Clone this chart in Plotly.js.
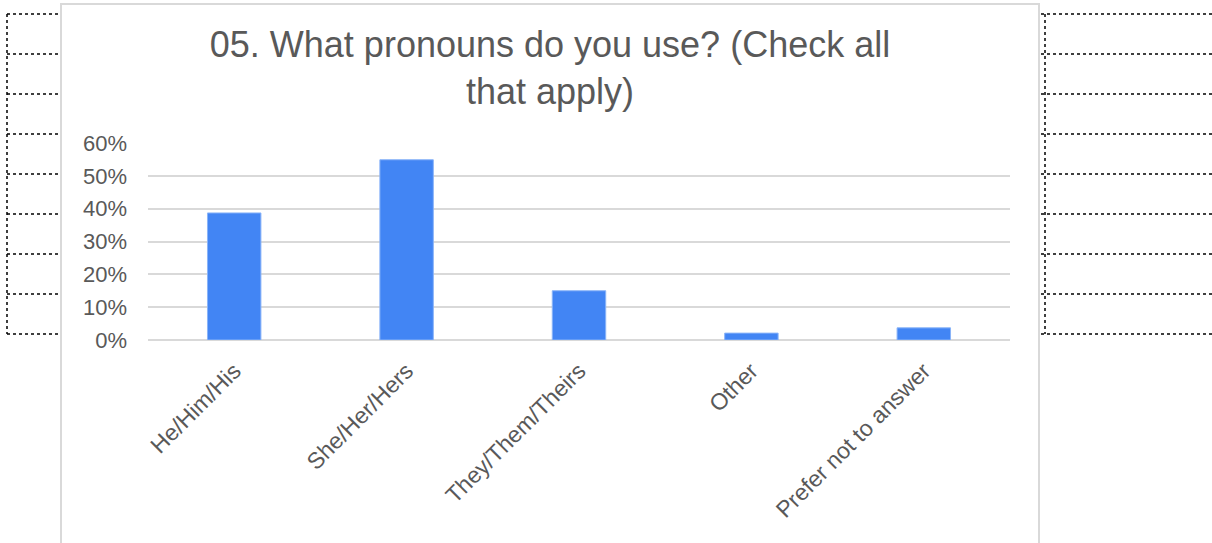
<!DOCTYPE html>
<html>
<head>
<meta charset="utf-8">
<script src="https://cdn.plot.ly/plotly-3.0.1.min.js"></script>
<style>
html,body{margin:0;padding:0;background:#fff;}
#chart{width:1212px;height:543px;}
</style>
</head>
<body>
<div id="chart"></div>
<script>
const categories = ["He/Him/His", "She/Her/Hers", "They/Them/Theirs", "Other", "Prefer not to answer"];
const shares = [0.387, 0.549, 0.150, 0.021, 0.037];
const yTickValues = [0, 0.1, 0.2, 0.3, 0.4, 0.5, 0.6];
const yTickLabels = ["0%", "10%", "20%", "30%", "40%", "50%", "60%"];
const titleText = "05. What pronouns do you use? (Check all<br>that apply)";

const W = 1212, H = 543;
const M = {l: 148, r: 202, t: 143, b: 203};
const pw = W - M.l - M.r, ph = H - M.t - M.b;
const px = x => (x - M.l) / pw;
const py = y => (H - M.b - y) / ph;

const shapes = [];
// chart frame
shapes.push({type: 'rect', xref: 'paper', yref: 'paper', x0: px(61), x1: px(1039), y0: py(4), y1: py(560),
  line: {color: '#d9d9d9', width: 2}, fillcolor: 'rgba(0,0,0,0)', layer: 'below'});
// spreadsheet cell dotted borders
const rows = [14, 54, 94, 134, 174, 214, 254, 294, 334];
rows.forEach(r => {
  shapes.push({type: 'line', xref: 'paper', yref: 'paper', x0: px(7), x1: px(60), y0: py(r), y1: py(r),
    line: {color: '#000', width: 1.5, dash: 'dot'}});
  shapes.push({type: 'line', xref: 'paper', yref: 'paper', x0: px(1041), x1: px(1212), y0: py(r), y1: py(r),
    line: {color: '#000', width: 1.5, dash: 'dot'}});
});
shapes.push({type: 'line', xref: 'paper', yref: 'paper', x0: px(7), x1: px(7), y0: py(14), y1: py(334),
  line: {color: '#000', width: 1.5, dash: 'dot'}});
shapes.push({type: 'line', xref: 'paper', yref: 'paper', x0: px(1045), x1: px(1045), y0: py(14), y1: py(334),
  line: {color: '#000', width: 1.5, dash: 'dot'}});

const trace = {
  type: 'bar',
  x: categories,
  y: shares,
  marker: {color: '#4285F4', line: {color: '#8ab4f8', width: 1}},
  hoverinfo: 'skip'
};

const layout = {
  width: W, height: H,
  margin: M,
  paper_bgcolor: '#fff',
  plot_bgcolor: '#fff',
  font: {family: 'Liberation Sans, Arial, sans-serif', color: '#595959'},
  title: {text: titleText, font: {size: 36, color: '#595959'}, x: px(550), xanchor: 'center',
    y: 1 - 57 / H, yanchor: 'top', xref: 'paper'},
  showlegend: false,
  bargap: 0.69,
  xaxis: {
    type: 'category',
    tickangle: -45,
    tickfont: {size: 23, color: '#595959'},
    showgrid: false,
    zeroline: false,
    showline: false,
    ticks: '',
    ticklabelstandoff: 12
  },
  yaxis: {
    range: [0, 0.6],
    tickvals: yTickValues,
    ticktext: yTickLabels,
    tickfont: {size: 22, color: '#595959'},
    showgrid: true,
    gridcolor: '#d9d9d9',
    gridwidth: 2,
    zeroline: true,
    zerolinecolor: '#d9d9d9',
    zerolinewidth: 2,
    showline: false,
    ticks: '',
    ticklabelstandoff: 20
  },
  shapes: shapes
};

Plotly.newPlot('chart', [trace], layout, {displayModeBar: false, staticPlot: true});
</script>
</body>
</html>
